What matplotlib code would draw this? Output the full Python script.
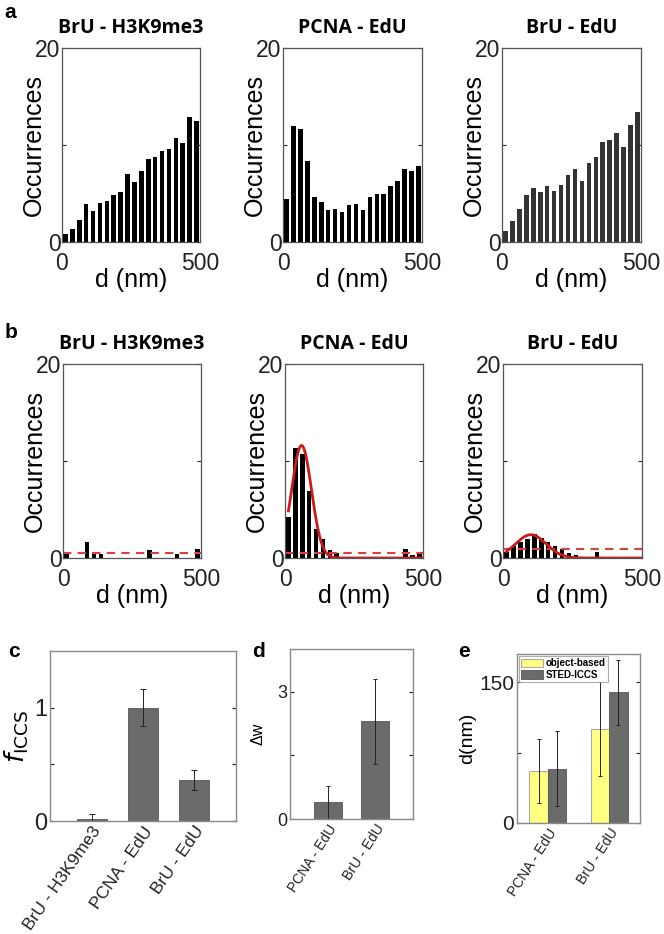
import matplotlib.pyplot as plt
import numpy as np

plt.rcParams['font.family'] = ['Liberation Sans', 'DejaVu Sans']

# histogram data (25 nm bins, 0-500 nm)
bin_centers = np.arange(12.5, 500, 25)
titles = ["BrU - H3K9me3", "PCNA - EdU", "BrU - EdU"]

hist_a_h3k9 = [0.8, 1.3, 2.3, 3.9, 3.2, 4.0, 4.2, 4.8, 5.2, 7.0,
               6.2, 7.3, 8.6, 8.8, 9.4, 9.6, 10.7, 10.2, 12.9, 12.5]
hist_a_pcna = [4.4, 12.0, 11.7, 8.3, 4.6, 4.1, 3.3, 3.4, 3.1, 3.8,
               3.9, 3.3, 4.6, 5.0, 5.0, 5.8, 6.3, 7.5, 7.3, 7.8]
hist_a_bru = [1.1, 2.2, 3.4, 4.8, 5.6, 5.2, 5.8, 5.3, 5.9, 6.9,
              7.5, 6.3, 8.1, 8.8, 10.3, 10.5, 11.2, 9.8, 12.1, 13.4]

hist_b_h3k9 = [0.4, 0.0, 0.0, 1.6, 0.5, 0.4, 0.0, 0.0, 0.0, 0.0,
               0.0, 0.0, 0.8, 0.0, 0.0, 0.0, 0.4, 0.0, 0.0, 0.9]
hist_b_pcna = [4.2, 11.3, 10.7, 6.9, 3.0, 2.0, 0.8, 0.5, 0.0, 0.0,
               0.0, 0.0, 0.0, 0.0, 0.0, 0.0, 0.0, 0.9, 0.3, 0.4]
hist_b_bru = [0.6, 1.2, 1.6, 2.0, 2.5, 2.1, 1.6, 1.2, 0.9, 0.5,
              0.3, 0.0, 0.0, 0.6, 0.0, 0.0, 0.0, 0.0, 0.0, 0.0]

# random-level (dashed) and gaussian fit (amplitude, centre, sigma)
random_level = [0.55, 0.55, 0.9]
fit_params = [None, (11.6, 60, 36), (2.4, 100, 55)]

# panel c
c_labels = ["BrU - H3K9me3", "PCNA - EdU", "BrU - EdU"]
c_values = [0.015, 1.0, 0.36]
c_errors = [0.05, 0.165, 0.09]

# panel d
d_labels = ["PCNA - EdU", "BrU - EdU"]
d_values = [0.39, 2.3]
d_errors = [0.39, 1.0]

# panel e
e_labels = ["PCNA - EdU", "BrU - EdU"]
e_object = [55, 100]
e_object_err = [34, 50]
e_sted = [58, 139]
e_sted_err = [40, 35]

fig = plt.figure(figsize=(6.64, 9.34), dpi=100)
W, H = 664, 934


def add_ax(x0, y0, x1, y1):
    return fig.add_axes([x0 / W, 1 - y1 / H, (x1 - x0) / W, (y1 - y0) / H])


def hist_style(ax, title, tpad):
    ax.set_xlim(0, 500)
    ax.set_ylim(0, 20)
    ax.set_xticks([0, 500])
    ax.set_yticks([0, 10, 20])
    ax.set_yticklabels(['0', '', '20'])
    ax.tick_params(direction='in', length=3, width=0.8, labelsize=16.5,
                   right=True, top=False, pad=1, colors='#222222')
    ax.tick_params(axis='x', pad=7)
    for s in ax.spines.values():
        s.set_color('#555555')
        s.set_linewidth(0.9)
    ax.set_xlabel('d (nm)', fontsize=18, labelpad=-5)
    ax.set_ylabel('Occurrences', fontsize=18, labelpad=-8)
    ax.set_title(title, fontsize=14, fontweight='bold', family='Open Sans',
                 pad=tpad)


xs_a = [(62, 200), (283, 422), (502, 641)]
xs_b = [(63, 201), (285, 423), (503, 642)]

hist_a = [hist_a_h3k9, hist_a_pcna, hist_a_bru]
hist_b = [hist_b_h3k9, hist_b_pcna, hist_b_bru]
colors_a = ['black', 'black', '#333333']

for i in range(3):
    ax = add_ax(xs_a[i][0], 48, xs_a[i][1], 242)
    ax.bar(bin_centers, hist_a[i], width=16.5, color=colors_a[i])
    hist_style(ax, titles[i], 11)

for i in range(3):
    ax = add_ax(xs_b[i][0], 364, xs_b[i][1], 558)
    ax.bar(bin_centers, hist_b[i], width=16.5, color='black')
    ax.axhline(random_level[i], color='#D94040', lw=1.5, ls=(0, (4, 3)))
    if fit_params[i] is not None:
        amp, mu, sig = fit_params[i]
        xf = np.linspace(12.5, 500, 300)
        ax.plot(xf, amp * np.exp(-(xf - mu) ** 2 / (2 * sig ** 2)),
                color='#CC1A1A', lw=2)
    hist_style(ax, titles[i], 11)

gray = '#6b6b6b'
yellow = '#ffff80'


def bar_style(ax):
    ax.tick_params(direction='in', length=3, width=0.8, right=True,
                   bottom=False, pad=2, colors='#222222')
    for s in ax.spines.values():
        s.set_color('#8a8a8a')
        s.set_linewidth(1.0)


# panel c
ax = add_ax(50, 651, 236, 821)
xc = np.arange(1, len(c_values) + 1)
ax.bar(xc, c_values, width=0.6, color=gray, edgecolor='#555555', lw=0.6)
ax.errorbar(xc, c_values, yerr=c_errors, fmt='none', ecolor='#222222',
            elinewidth=0.7, capsize=2, capthick=0.7)
ax.set_xlim(0.18, 3.82)
ax.set_ylim(0, 1.5)
ax.set_yticks([0, 0.5, 1])
ax.set_yticklabels(['0', '', '1'])
ax.set_xticks(xc)
ax.set_xticklabels(c_labels, rotation=55, ha='right', rotation_mode='anchor',
                   fontsize=12.5)
bar_style(ax)
ax.tick_params(axis='y', labelsize=17)
ax.set_ylabel(r'$f_{\mathrm{ICCS}}$', fontsize=19, labelpad=2)

# panel d
ax = add_ax(290, 649, 413, 819)
xd = np.arange(1, len(d_values) + 1)
ax.bar(xd, d_values, width=0.6, color=gray, edgecolor='#555555', lw=0.6)
ax.errorbar(xd, d_values, yerr=d_errors, fmt='none', ecolor='#222222',
            elinewidth=0.7, capsize=1.5, capthick=0.7)
ax.set_xlim(0.2, 2.8)
ax.set_ylim(0, 4)
ax.set_yticks([0, 1.5, 3])
ax.set_yticklabels(['0', '', '3'])
ax.set_xticks(xd)
ax.set_xticklabels(d_labels, rotation=57, ha='right', rotation_mode='anchor',
                   fontsize=10)
bar_style(ax)
ax.tick_params(axis='y', labelsize=13)
ax.set_ylabel('\u0394w', fontsize=11.5, labelpad=8)

# panel e
ax = add_ax(517, 654, 640, 823)
xe = np.arange(1, len(e_object) + 1)
bw = 0.3
ax.bar(xe - bw / 2, e_object, width=bw, color=yellow, edgecolor='#aaaaaa',
       lw=0.8, label='object-based')
ax.bar(xe + bw / 2, e_sted, width=bw, color=gray, edgecolor='#555555',
       lw=0.6, label='STED-ICCS')
ax.errorbar(xe - bw / 2, e_object, yerr=e_object_err, fmt='none',
            ecolor='#222222', elinewidth=0.7, capsize=1.5, capthick=0.7)
ax.errorbar(xe + bw / 2, e_sted, yerr=e_sted_err, fmt='none',
            ecolor='#222222', elinewidth=0.7, capsize=1.5, capthick=0.7)
ax.set_xlim(0.5, 2.5)
ax.set_ylim(0, 180)
ax.set_yticks([0, 75, 150])
ax.set_yticklabels(['0', '', '150'])
ax.set_xticks(xe)
ax.set_xticklabels(e_labels, rotation=57, ha='right', rotation_mode='anchor',
                   fontsize=10)
bar_style(ax)
ax.tick_params(axis='y', labelsize=15)
ax.set_ylabel('d(nm)', fontsize=14, labelpad=2)
leg = ax.legend(loc='upper left', prop={'weight': 'bold', 'size': 7},
                frameon=True, fancybox=False, borderaxespad=0.25,
                handlelength=2.2, handleheight=1.0, handletextpad=0.3,
                borderpad=0.2, labelspacing=0.15)
leg.get_frame().set_edgecolor('#999999')
leg.get_frame().set_linewidth(0.8)

# panel letters
for letter, x, y in [('a', 4, 18), ('b', 5, 338), ('c', 8, 657),
                     ('d', 252, 657), ('e', 458, 657)]:
    fig.text(x / W, 1 - y / H, letter, fontsize=15, fontweight='bold',
             va='baseline', ha='left')

fig.savefig('out.png', dpi=100)
